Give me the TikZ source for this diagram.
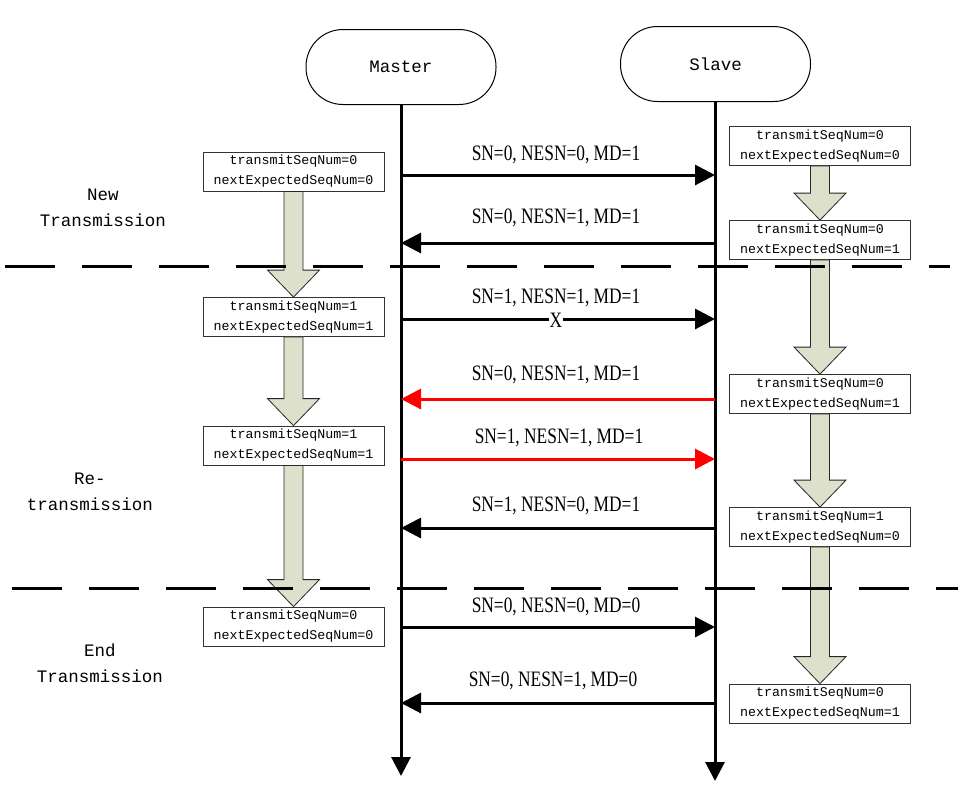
\documentclass[tikz,border=0pt]{standalone}
\usepackage{fontspec}
\usepackage{graphicx}
\setmainfont{Liberation Serif}
\newfontfamily\monofam{Liberation Mono}
\usetikzlibrary{arrows.meta,calc}

\definecolor{flowfill}{RGB}{221,224,203}

\tikzset{
  lifeline/.style={line width=3pt, -{Triangle[length=19pt,width=19pt]}},
  msg/.style={line width=3pt, -{Triangle[length=20pt,width=20pt]}},
  retry/.style={msg, red},
  party/.style={draw, line width=1pt, rounded corners=37pt, minimum width=190pt,
    minimum height=75pt, font=\monofam\fontsize{17.5}{20}\selectfont},
  statebox/.style={draw=black!80, fill=white, line width=0.8pt, minimum width=181pt,
    minimum height=39pt, inner sep=0pt, align=center,
    font=\monofam\fontsize{13.3}{20}\selectfont},
  phase/.style={align=center, font=\monofam\fontsize{17.5}{26}\selectfont},
  msglabel/.style={inner sep=0pt, font=\fontsize{22}{24}\selectfont},
  divider/.style={line width=3pt, dash pattern=on 50pt off 27pt},
  stepflow/.style={fill=flowfill, draw=black!85, line width=0.8pt},
}

% block arrow from the bottom of one state box to the top of the next
\newcommand\stateflow[2]{%
  \draw[stepflow] let \p1=(#1.south), \p2=(#2.north) in
    (\x1-9.5pt,\y1) -- (\x1-9.5pt,\y2+27pt) -- (\x1-26pt,\y2+27pt) -- (\x2,\y2)
    -- (\x1+26pt,\y2+27pt) -- (\x1+9.5pt,\y2+27pt) -- (\x1+9.5pt,\y1) -- cycle;}

\newcommand\lbl[1]{\scalebox{0.79}[1]{#1}}

\begin{document}
\begin{tikzpicture}[x=1pt,y=-1pt]
\useasboundingbox (0,0) rectangle (961,796);

% participants
\node[party] (master) at (401,67) {Master};
\node[party] (slave) at (715.5,64) {Slave};
\coordinate (mend) at (401,776);
\coordinate (send) at (715,781);
\draw[lifeline] (master.south) -- (mend);
\draw[lifeline] (slave.south -| send) -- (send);

% message end points on the lifelines
\foreach \n/\yy in {1/175,2/243,3/319,4/399,5/459,6/528,7/627,8/703}{
  \coordinate (m\n) at (401,\yy);
  \coordinate (s\n) at (715,\yy);
}

% messages
\draw[msg] (m1) -- (s1);
\node[msglabel] (t1) at (556,155) {\lbl{SN=0, NESN=0, MD=1}};
\draw[msg] (s2) -- (m2);
\node[msglabel] (t2) at (556,218) {\lbl{SN=0, NESN=1, MD=1}};
\draw[msg] (m3) -- (s3);
\node[msglabel] (t3) at (556,298) {\lbl{SN=1, NESN=1, MD=1}};
\node[msglabel, fill=white, inner sep=0.5pt] (lost) at (556,320) {\lbl{X}};
\draw[retry] (s4) -- (m4);
\node[msglabel] (t4) at (556,375) {\lbl{SN=0, NESN=1, MD=1}};
\draw[retry] (m5) -- (s5);
\node[msglabel] (t5) at (559,438) {\lbl{SN=1, NESN=1, MD=1}};
\draw[msg] (s6) -- (m6);
\node[msglabel] (t6) at (556,506) {\lbl{SN=1, NESN=0, MD=1}};
\draw[msg] (m7) -- (s7);
\node[msglabel] (t7) at (556,607) {\lbl{SN=0, NESN=0, MD=0}};
\draw[msg] (s8) -- (m8);
\node[msglabel] (t8) at (553,681) {\lbl{SN=0, NESN=1, MD=0}};

% master states
\node[statebox] (L1) at (293.5,171.5) {transmitSeqNum=0\\nextExpectedSeqNum=0};
\node[statebox] (L2) at (293.5,317) {transmitSeqNum=1\\nextExpectedSeqNum=1};
\node[statebox] (L3) at (293.5,445.5) {transmitSeqNum=1\\nextExpectedSeqNum=1};
\node[statebox] (L4) at (293.5,626.5) {transmitSeqNum=0\\nextExpectedSeqNum=0};

% slave states
\node[statebox] (R1) at (820,146) {transmitSeqNum=0\\nextExpectedSeqNum=0};
\node[statebox] (R2) at (820,240) {transmitSeqNum=0\\nextExpectedSeqNum=1};
\node[statebox] (R3) at (820,394) {transmitSeqNum=0\\nextExpectedSeqNum=1};
\node[statebox] (R4) at (820,527) {transmitSeqNum=1\\nextExpectedSeqNum=0};
\node[statebox] (R5) at (820,703.5) {transmitSeqNum=0\\nextExpectedSeqNum=1};

% state transitions
\stateflow{L1}{L2}
\stateflow{L2}{L3}
\stateflow{L3}{L4}
\stateflow{R1}{R2}
\stateflow{R2}{R3}
\stateflow{R3}{R4}
\stateflow{R4}{R5}

% phase labels
\node[phase] (ph1) at (103,208) {New\\Transmission};
\node[phase] (ph2) at (90,492) {Re-\\transmission};
\node[phase] (ph3) at (100,663) {End\\Transmission};

% phase dividers
\coordinate (d1a) at (5,266);
\coordinate (d1b) at (950,266);
\coordinate (d2a) at (12,588);
\coordinate (d2b) at (958,588);
\draw[divider] (d1a) -- (d1b);
\draw[divider] (d2a) -- (d2b);
\end{tikzpicture}
\end{document}
